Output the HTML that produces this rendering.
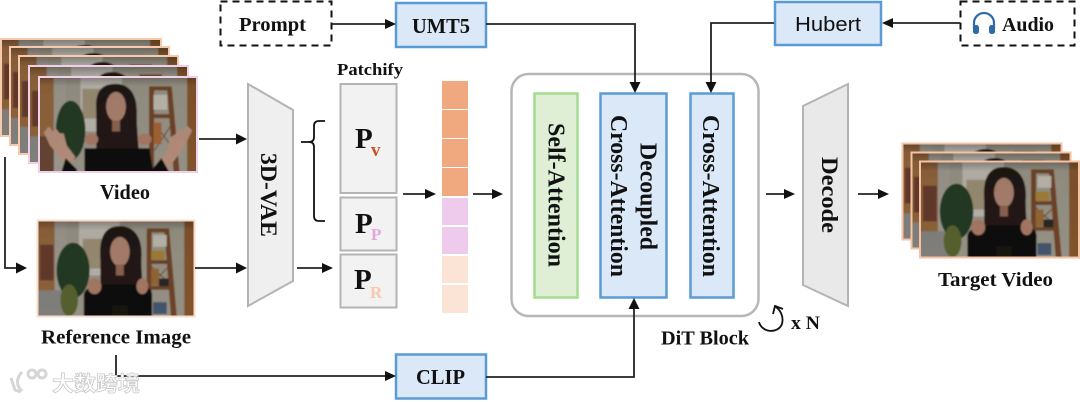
<!DOCTYPE html>
<html><head><meta charset="utf-8">
<style>
html,body{margin:0;padding:0;background:#fff;width:1080px;height:402px;overflow:hidden}
svg{display:block}
text{font-family:"Liberation Serif",serif;font-weight:bold;fill:#111}
</style></head>
<body>
<svg width="1080" height="402" viewBox="0 0 1080 402" xmlns="http://www.w3.org/2000/svg">
<defs>
<filter id="b" x="-5%" y="-5%" width="110%" height="110%"><feGaussianBlur stdDeviation="0.8"/></filter>
<linearGradient id="sh" x1="0" y1="0" x2="0" y2="1">
<stop offset="0" stop-color="#000" stop-opacity=".42"/><stop offset=".12" stop-color="#000" stop-opacity=".14"/><stop offset="1" stop-color="#000" stop-opacity=".1"/>
</linearGradient>
<symbol id="ph" viewBox="0 0 160 96" preserveAspectRatio="none">
<g filter="url(#b)">
<rect x="-3" y="-3" width="166" height="102" fill="#a5a092"/>
<rect x="-3" y="-3" width="24" height="102" fill="#9c6c40"/>
<rect x="17" y="-3" width="12" height="102" fill="#aaa59a"/>
<rect x="-3" y="70" width="34" height="30" fill="#8e8c88"/>
<rect x="2" y="24" width="14" height="36" fill="#6e4030"/>
<rect x="42" y="-3" width="42" height="58" fill="#c9c5bc"/>
<rect x="46" y="18" width="28" height="30" fill="#a89a7e"/>
<rect x="150" y="-3" width="13" height="102" fill="#8f5c30"/>
<ellipse cx="36" cy="50" rx="17" ry="28" fill="#263f24"/>
<ellipse cx="32" cy="80" rx="9" ry="16" fill="#5e6a32"/>
<path d="M112 8h4v90h-4zM130 8h4l8 90h-5zM112 8h22v3h-22zM112 40h24v3h-24zM112 66h27v3h-27zM114 44l24 22M136 44l-22 22" stroke="#7a4a2a" stroke-width="1" fill="#7a4a2a"/>
<rect x="118" y="14" width="14" height="12" fill="#cfcabf"/>
<rect x="116" y="30" width="14" height="9" fill="#b08b3e"/>
<rect x="116" y="48" width="8" height="17" fill="#a0703a"/>
<rect x="124" y="58" width="10" height="8" fill="#2b2a2a"/>
<rect x="118" y="82" width="14" height="12" fill="#4a5d78"/>
<path d="M64 98V40C62 14 70 5 84 5s24 11 22 34c0 20 3 40 5 59z" fill="#241814"/>
<path d="M47 98V74c2-8 12-9 20-10h34c8 1 15 2 16 10v24z" fill="#100e0f"/>
<ellipse cx="58" cy="66" rx="7" ry="8" fill="#b5836e"/>
<ellipse cx="107" cy="66" rx="6" ry="8" fill="#b5836e"/>
<ellipse cx="84" cy="31" rx="10" ry="15" fill="#b98c78"/>
<rect x="80" y="44" width="8" height="11" fill="#9a6c58"/>
<path d="M76 85h16v13H76z" fill="#1c1513"/>
<rect x="-3" y="-3" width="166" height="102" fill="url(#sh)"/>
</g>
</symbol>
<symbol id="ph2" viewBox="0 0 160 96" preserveAspectRatio="none">
<g filter="url(#b)">
<rect x="-3" y="-3" width="166" height="102" fill="#a5a092"/>
<rect x="-3" y="-3" width="18" height="102" fill="#9c6c40"/>
<rect x="15" y="-3" width="12" height="102" fill="#aaa59a"/>
<rect x="-3" y="60" width="18" height="40" fill="#6e4a38"/>
<rect x="42" y="-3" width="42" height="58" fill="#c9c5bc"/>
<rect x="44" y="12" width="24" height="30" fill="#a89a7e"/>
<rect x="150" y="-3" width="13" height="102" fill="#8f5c30"/>
<ellipse cx="32" cy="54" rx="15" ry="30" fill="#263f24"/>
<path d="M112 10h4v88h-4zM130 10h4l8 88h-5zM112 10h22v3h-22zM112 38h24v3h-24zM115 44l22 30M137 44l-20 30" stroke="#7a4a2a" stroke-width="1" fill="#7a4a2a"/>
<rect x="116" y="18" width="14" height="15" fill="#cfcabf"/>
<rect x="116" y="46" width="8" height="22" fill="#b06b3a"/>
<path d="M58 98V36C56 12 65 7 78 7s22 10 21 31c0 20 3 40 4 60z" fill="#241814"/>
<path d="M46 98V72h66l4 26z" fill="#121011"/>
<ellipse cx="53" cy="63" rx="7" ry="6" fill="#b5836e"/>
<ellipse cx="107" cy="63" rx="7" ry="6" fill="#b5836e"/>
<ellipse cx="78" cy="30" rx="10" ry="15" fill="#b98c78"/>
<rect x="74" y="44" width="8" height="11" fill="#9a6c58"/>
<path d="M5 56l5-6 4 5 3-3 4 5 4 0 3 12 9 12-8 10-18-22z" fill="#c49a86"/>
<path d="M155 54l-5-5-4 6-4-3-4 6-5 3-4 14-8 10 8 10 18-24z" fill="#c49a86"/>
<path d="M27 82l12 12-3 4h-14zM124 82l-10 12 3 4h16z" fill="#121011"/>
<rect x="-3" y="-3" width="166" height="102" fill="url(#sh)"/>
</g>
</symbol>
</defs>

<!-- Video stack -->
<g stroke-width="2">
<use href="#ph" x="2" y="40" width="158" height="95"/><rect x="1" y="39" width="160" height="97" fill="none" stroke="#f5c9ae"/>
<use href="#ph" x="11" y="48" width="157" height="96"/><rect x="10" y="47" width="159" height="98" fill="none" stroke="#f5c9ae"/>
<use href="#ph" x="20" y="57" width="157" height="96"/><rect x="19" y="56" width="159" height="98" fill="none" stroke="#f5c9ae"/>
<use href="#ph" x="30" y="67" width="157" height="95"/><rect x="29" y="66" width="159" height="97" fill="none" stroke="#f0cfe8"/>
<use href="#ph2" x="39" y="77" width="158" height="95"/><rect x="39" y="77" width="158" height="95" fill="none" stroke="#f0cfe8"/>
</g>
<text x="100" y="199" font-size="21" textLength="50" lengthAdjust="spacingAndGlyphs">Video</text>

<!-- Reference -->
<use href="#ph" x="38" y="221" width="156" height="95"/>
<rect x="37.500" y="220.500" width="157" height="96" fill="none" stroke="#f9dccb" stroke-width="2"/>
<text x="41" y="343.500" font-size="20.500" textLength="150" lengthAdjust="spacingAndGlyphs">Reference Image</text>

<!-- Target -->
<g stroke-width="2">
<use href="#ph" x="903" y="144" width="158" height="95"/><rect x="902.500" y="143.500" width="159" height="96" fill="none" stroke="#f5c2a4"/>
<use href="#ph" x="912" y="153" width="158" height="95"/><rect x="911.500" y="152.500" width="159" height="96" fill="none" stroke="#f5c2a4"/>
<use href="#ph" x="921" y="162" width="158" height="95"/><rect x="920" y="161.500" width="159" height="96" fill="none" stroke="#f5c2a4"/>
</g>
<text x="938" y="286" font-size="20.500" textLength="115" lengthAdjust="spacingAndGlyphs">Target Video</text>

<!-- Trapezoids -->
<polygon points="248,84 293,110 293,281 248,306" fill="#efefef" stroke="#b4b4b4" stroke-width="2"/>
<text transform="translate(261,153) rotate(90)" font-size="23" textLength="84" lengthAdjust="spacingAndGlyphs">3D-VAE</text>
<polygon points="848,84 803,106 803,285 848,306" fill="#e9e9e9" stroke="#b4b4b4" stroke-width="2"/>
<text transform="translate(822,157) rotate(90)" font-size="23" textLength="76" lengthAdjust="spacingAndGlyphs">Decode</text>

<!-- Patchify -->
<text x="337" y="75" font-size="17" textLength="66" lengthAdjust="spacingAndGlyphs">Patchify</text>
<g fill="#f2f2f2" stroke="#b4b4b4" stroke-width="2">
<rect x="340.500" y="84" width="56" height="109"/>
<rect x="340.500" y="197.500" width="56" height="53"/>
<rect x="340.500" y="254.500" width="56" height="53"/>
</g>
<text x="355" y="148" font-size="29">P</text><text x="371" y="156" font-size="19" style="fill:#c5562a">v</text>
<text x="355" y="233" font-size="29">P</text><text x="371" y="240" font-size="17" style="fill:#e5a6dd">P</text>
<text x="354" y="289" font-size="29">P</text><text x="370" y="298" font-size="17" style="fill:#f6c9ac">R</text>

<!-- Brace -->
<path d="M325 121h-6q-5 0-5 5v11q0 5-5 5h-8M309 142q5 0 5 5v69q0 5 5 5h6" fill="none" stroke="#111" stroke-width="1.800"/>

<!-- Tokens -->
<g fill="#f0a87f">
<rect x="442" y="81" width="26" height="28"/><rect x="442" y="110" width="26" height="28"/><rect x="442" y="139" width="26" height="28"/><rect x="442" y="168" width="26" height="28"/>
</g>
<g fill="#eecbec"><rect x="442" y="198" width="26" height="27"/><rect x="442" y="227" width="26" height="27"/></g>
<g fill="#fbe3d6"><rect x="442" y="256" width="26" height="27"/><rect x="442" y="285" width="26" height="28"/></g>

<!-- DiT -->
<rect x="511.500" y="74" width="247" height="242" rx="17" fill="#fff" stroke="#b6b6b6" stroke-width="2.500"/>
<rect x="534.500" y="93.500" width="43" height="204" fill="#deefd6" stroke="#a3dc8e" stroke-width="2.500"/>
<rect x="600.500" y="93.500" width="66" height="204" fill="#dbe8f7" stroke="#5b9bd5" stroke-width="2.500"/>
<rect x="690.500" y="93.500" width="43" height="204" fill="#dbe8f7" stroke="#5b9bd5" stroke-width="2.500"/>
<text transform="translate(548.500,123) rotate(90)" font-size="24" textLength="144" lengthAdjust="spacingAndGlyphs">Self-Attention</text>
<text transform="translate(640.500,143) rotate(90)" font-size="24" textLength="107" lengthAdjust="spacingAndGlyphs">Decoupled</text>
<text transform="translate(611,115) rotate(90)" font-size="24" textLength="162" lengthAdjust="spacingAndGlyphs">Cross-Attention</text>
<text transform="translate(703,115) rotate(90)" font-size="24" textLength="162" lengthAdjust="spacingAndGlyphs">Cross-Attention</text>
<text x="661" y="344.500" font-size="20" textLength="88" lengthAdjust="spacingAndGlyphs">DiT Block</text>
<path d="M759 322C762 333 778 334 782 324C784 316 780 310 776 307" fill="none" stroke="#111" stroke-width="1.800"/>
<path d="M773 314L775 306L783 309" fill="none" stroke="#111" stroke-width="1.800"/>
<text x="791" y="329" font-size="19" textLength="29" lengthAdjust="spacingAndGlyphs">x N</text>

<!-- Top boxes -->
<rect x="220.500" y="1.500" width="111" height="44" fill="#fff" stroke="#111" stroke-width="2" stroke-dasharray="7 5"/>
<text x="239" y="31" font-size="20.500" textLength="67" lengthAdjust="spacingAndGlyphs">Prompt</text>
<rect x="396" y="3" width="90" height="44" fill="#dbe8f7" stroke="#5b9bd5" stroke-width="2.500"/>
<text x="412" y="33" font-size="21" textLength="58" lengthAdjust="spacingAndGlyphs">UMT5</text>
<rect x="775" y="2" width="106" height="43" fill="#dbe8f7" stroke="#5b9bd5" stroke-width="2.500"/>
<text x="795" y="31" font-size="20" textLength="66" lengthAdjust="spacingAndGlyphs" style="font-family:'Liberation Sans',sans-serif;font-weight:normal;fill:#111">Hubert</text>
<rect x="960.500" y="1.500" width="114" height="44" fill="#fff" stroke="#111" stroke-width="2" stroke-dasharray="7 5"/>
<path d="M974 29v-6a10 10 0 0 1 20 0v6" fill="none" stroke="#2e6da4" stroke-width="2.200"/>
<rect x="973" y="25" width="6" height="9" rx="2.500" fill="#2e6da4"/><rect x="989" y="25" width="6" height="9" rx="2.500" fill="#2e6da4"/>
<text x="1002" y="31" font-size="20" textLength="52" lengthAdjust="spacingAndGlyphs">Audio</text>

<!-- CLIP -->
<rect x="396" y="354.500" width="90" height="44" fill="#dbe8f7" stroke="#5b9bd5" stroke-width="2.500"/>
<text x="416" y="384" font-size="21" textLength="49" lengthAdjust="spacingAndGlyphs">CLIP</text>

<!-- Connectors -->
<g fill="none" stroke="#222" stroke-width="1.800">
<path d="M332 24H388"/>
<path d="M486 24H635V86"/>
<path d="M774 23H711V86"/>
<path d="M960 23H890"/>
<path d="M199 139H238"/>
<path d="M195 268H238"/>
<path d="M5 157V268H20"/>
<path d="M297 268H324"/>
<path d="M403 194H427"/>
<path d="M473 194H497"/>
<path d="M766 194H787"/>
<path d="M858 194H880"/>
<path d="M116 355V376H388"/>
<path d="M486 377H634V306"/>
</g>
<g fill="#111">
<polygon points="396,24 385,19 385,29"/>
<polygon points="635,93 629.500,82 640.500,82"/>
<polygon points="711,93 705.500,82 716.500,82"/>
<polygon points="882,23 893,18 893,28"/>
<polygon points="247,139 236,133.500 236,144.500"/>
<polygon points="247,268 236,262.500 236,273.500"/>
<polygon points="27,268 16,262.500 16,273.500"/>
<polygon points="333,268 322,263 322,273"/>
<polygon points="436,194 425,189 425,199"/>
<polygon points="503,194 492,189 492,199"/>
<polygon points="795,194 784,189 784,199"/>
<polygon points="889,194 878,189 878,199"/>
<polygon points="396,376 385,371 385,381"/>
<polygon points="634,298 628.500,309 639.500,309"/>
</g>

<!-- Watermark -->
<g fill="none" stroke="#d6d6d6" stroke-width="3">
<path d="M11 378l4 12 6 2M22 372c-6 6-6 14 0 19"/>
<circle cx="32" cy="374" r="4"/><circle cx="42" cy="374" r="4"/>
</g>
<text x="52" y="391" font-size="21" textLength="88" lengthAdjust="spacingAndGlyphs" style="font-family:'Noto Sans CJK SC',sans-serif;font-weight:bold;fill:#fff;stroke:#c9c9c9;stroke-width:.8">大数跨境</text>
</svg>
</body></html>
